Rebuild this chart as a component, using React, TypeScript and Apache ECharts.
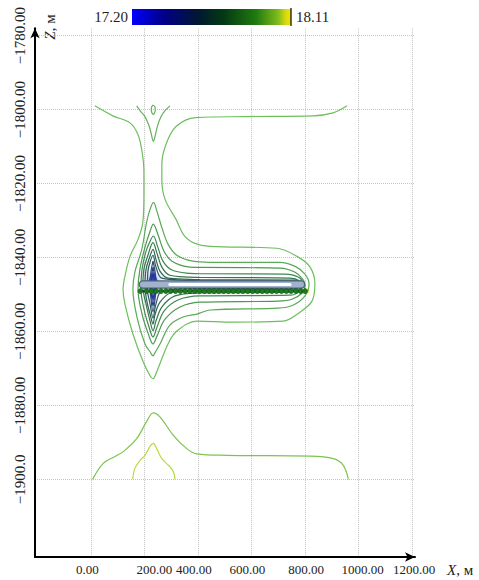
import React, { useEffect, useRef } from "react";
import * as echarts from "echarts";

// ---- axis ticks ----
const xTicks = [0, 200, 400, 600, 800, 1000, 1200];
const xTickLabels = ["0.00", "200.00", "400.00", "600.00", "800.00", "1000.00", "1200.00"];
const zTicks = [-1780, -1800, -1820, -1840, -1860, -1880, -1900];
const zTickLabels = ["\u22121780.00", "\u22121800.00", "\u22121820.00", "\u22121840.00", "\u22121860.00", "\u22121880.00", "\u22121900.0"];

// ---- colour bar ----
const colorMinLabel = "17.20";
const colorMaxLabel = "18.11";

// ---- contour lines (X, Z) ----
const contourA: number[][] = [
  [15, -1799], [82, -1801.7], [146, -1803.6], [176, -1806.8], [191, -1811.4], [198, -1816.8], [198, -1823],
  [194, -1830.5], [176, -1835.1], [146, -1839.7], [127, -1845.1], [120, -1848.6], [127, -1852.6], [157, -1860.7],
  [194, -1868], [221, -1872], [232, -1872.8], [247, -1870.7], [288, -1863.4], [321, -1859.9], [396, -1857.2],
  [531, -1857.5], [718, -1857.2], [781, -1854.8], [826, -1851.8], [837, -1847.2], [819, -1842.6], [770, -1839.7],
  [695, -1837.5], [445, -1837], [389, -1836.2], [348, -1834], [318, -1829.7], [277, -1824.3], [265, -1818.9],
  [265, -1814.8], [280, -1809.5], [318, -1804.6], [392, -1802.2], [583, -1801.9], [830, -1801.7], [905, -1800.9],
  [957, -1799],
];
const contourB: number[][] = [
  [445, -1841.3], [706, -1841.3], [763, -1842.4], [800, -1844.5], [815, -1847.2], [800, -1850.4], [755, -1852.9],
  [699, -1853.7], [445, -1854.2], [396, -1855.3], [344, -1856.1], [295, -1858.3], [258, -1863.4], [239, -1865.8],
  [232, -1866.6], [221, -1865.5], [202, -1863.4], [172, -1856.1], [157, -1848.6], [164, -1844], [190, -1837.8],
  [208, -1830.5], [221, -1827], [234, -1825.1], [247, -1827.6], [265, -1831.9], [288, -1836.4], [321, -1839.4],
  [381, -1841], [445, -1841.3],
];
const contourC: number[][] = [
  [407, -1842.7], [706, -1842.9], [763, -1844], [792, -1845.9], [800, -1847.5], [789, -1849.6], [751, -1851.3],
  [699, -1851.8], [407, -1852.1], [333, -1853.4], [277, -1856.7], [247, -1861.2], [232, -1863.4], [217, -1861.2],
  [191, -1855.3], [176, -1848.6], [183, -1843.2], [202, -1837.2], [221, -1832.9], [233, -1831], [250, -1833.7],
  [273, -1838.3], [303, -1841], [370, -1842.6], [407, -1842.7],
];
const contourD: number[][] = [
  [407, -1844.4], [725, -1844.5], [774, -1845.3], [792, -1847.2], [781, -1849.1], [744, -1850.2], [407, -1850.4],
  [325, -1851.5], [273, -1854.5], [247, -1858.8], [232, -1861.5], [217, -1858.8], [198, -1853.9], [187, -1848.6],
  [191, -1843.2], [206, -1838.3], [221, -1835.6], [233, -1834.2], [250, -1837.2], [269, -1841], [303, -1843.4],
  [370, -1844.3], [407, -1844.4],
];
const contourE: number[][] = [
  [407, -1845.4], [744, -1845.6], [781, -1846.4], [789, -1847.5], [774, -1848.8], [736, -1849.4], [407, -1849.6],
  [314, -1850.4], [265, -1853.4], [243, -1857.2], [232, -1859.8], [221, -1857.2], [206, -1852.6], [194, -1848],
  [198, -1843.2], [213, -1839.4], [232, -1836], [247, -1838.9], [265, -1842.6], [295, -1844.8], [370, -1845.3],
  [407, -1845.4],
];
const contourF: number[][] = [
  [407, -1846], [763, -1846.1], [781, -1847.2], [766, -1848.6], [407, -1848.8], [303, -1849.4], [258, -1852.1],
  [239, -1855.6], [232, -1858], [222, -1855.6], [209, -1851.8], [202, -1847.8], [206, -1843.2], [219, -1840],
  [232, -1837.8], [243, -1840.5], [258, -1843.7], [288, -1845.6], [370, -1845.9], [407, -1846],
];
const contourG: number[][] = [
  [407, -1846.3], [766, -1846.4], [777, -1847.2], [766, -1848.3], [407, -1848.4], [265, -1849.1], [243, -1852.6],
  [232, -1856.4], [221, -1852.6], [211, -1848.6], [213, -1843.7], [222, -1841], [232, -1839.4], [243, -1842.6],
  [265, -1845.6], [370, -1846.2], [407, -1846.3],
];
const contourH: number[][] = [
  [232, -1841], [240, -1844], [244, -1847.5], [240, -1851], [232, -1854.7], [224, -1851], [220, -1847.5], [224, -1844], [232, -1841],
];
const contourI: number[][] = [
  [232, -1842.6], [238, -1845], [241, -1847.5], [238, -1850], [232, -1853.1], [226, -1850], [223, -1847.5], [226, -1845], [232, -1842.6],
];
const contourJ: number[][] = [
  [232, -1844], [236, -1846], [238, -1847.5], [236, -1849.2], [232, -1851.5], [228, -1849.2], [226, -1847.5], [228, -1846], [232, -1844],
];
const contourTopV: number[][] = [
  [171, -1799], [187, -1800.6], [202, -1801.9], [217, -1804.4], [226, -1806.8], [233, -1808.6], [241, -1806.8],
  [249, -1804.4], [262, -1801.9], [277, -1800.3], [295, -1799],
];
const contourTopO: number[][] = [
  [233, -1798.8], [238.5, -1799.2], [240.4, -1800], [238.5, -1800.8], [233, -1801.3], [227.3, -1800.8],
  [225.4, -1800], [227.3, -1799.2], [233, -1798.8],
];
const contourLow1: number[][] = [
  [6, -1900], [46, -1895.7], [90, -1893.8], [121, -1892.5], [171, -1889], [208, -1884.4], [233, -1882],
  [258, -1883.1], [308, -1888.1], [358, -1891.7], [395, -1893.1], [507, -1893.5], [819, -1893.7], [906, -1894.4],
  [943, -1896.2], [962, -1900],
];
const contourLow2: number[][] = [
  [156, -1900], [164, -1897.1], [183, -1894.9], [202, -1893.5], [221, -1891.1], [233, -1890.3], [247, -1891.9],
  [265, -1894.4], [295, -1896.6], [308, -1897.9], [314, -1900],
];

// ---- horizontal well / source ----
const wellBody: number[][] = [[194, -1847.3], [785, -1847.3]];
const wellCore: number[][] = [[295, -1847.3], [744, -1847.3]];
const beadsX = [185, 208, 226, 244, 262, 280, 298, 316, 334, 352, 370, 388, 406, 424, 442, 460, 478, 496, 514, 532,
  550, 568, 586, 604, 622, 640, 658, 676, 694, 712, 730, 748, 766, 784, 800];
const beadsZ = -1849.1;
const wellEnd: number[][] = [[807, -1849.1]];
const sourcePoint: number[][] = [[232, -1847]];

const FONT = "'Liberation Serif', 'DejaVu Serif', serif";

const contourStyles: [number[][], string][] = [
  [contourA, "#6cbf5c"],
  [contourTopV, "#62b35a"],
  [contourTopO, "#62b35a"],
  [contourB, "#5aab55"],
  [contourC, "#4c9a50"],
  [contourD, "#3f8850"],
  [contourE, "#35764e"],
  [contourF, "#2e6650"],
  [contourG, "#2c5860"],
  [contourH, "#2a4a70"],
  [contourI, "#283c88"],
  [contourJ, "#2233aa"],
  [contourLow1, "#7dc44e"],
  [contourLow2, "#b8dc3c"],
];

// label nudges (rich style names per tick) to mimic the uneven spacing of the original
const xLabelRich: Record<string, any> = {
  r0: { padding: [0, 7, 0, 0] },
  r1: { padding: [0, 0, 0, 20] },
  r2: { padding: [0, 8, 0, 0] },
  r3: { padding: [0, 8, 0, 0] },
  r4: { padding: [0, 0, 0, 2] },
  r5: { padding: [0, 0, 0, 8] },
  r6: { padding: [0, 0, 0, 4] },
};
Object.keys(xLabelRich).forEach((k) => {
  xLabelRich[k] = { ...xLabelRich[k], fontFamily: FONT, fontSize: 13, color: "#222" };
});

export default function App() {
  const ref = useRef<HTMLDivElement>(null);
  useEffect(() => {
    if (!ref.current) return;
    const chart = echarts.init(ref.current, null, { renderer: "svg" });
    const series: any[] = contourStyles.map(([data, color]) => ({
      type: "line",
      data,
      smooth: 0.35,
      symbol: "none",
      silent: true,
      lineStyle: { color, width: 1.2 },
    }));
    series.push(
      {
        type: "line", data: wellBody, symbol: "none", silent: true,
        lineStyle: { color: "#4a6478", width: 8.5, cap: "round" },
      },
      {
        type: "line", data: wellBody, symbol: "none", silent: true,
        lineStyle: { color: "#a3b2cc", width: 6, cap: "round" },
      },
      {
        type: "line", data: wellCore, symbol: "none", silent: true,
        lineStyle: { color: "#ffffff", width: 3, cap: "round" },
      },
      {
        type: "scatter", data: sourcePoint, symbol: "circle", symbolSize: [9, 18], silent: true,
        itemStyle: { color: "rgba(25,45,255,0.9)", shadowBlur: 8, shadowColor: "#3050ff" },
      },
      {
        type: "scatter", data: sourcePoint, symbol: "circle", symbolSize: 3, silent: true,
        itemStyle: { color: "#c8d8ff" },
      },
      {
        type: "line", data: beadsX.map((x) => [x, beadsZ]), symbol: "circle", symbolSize: 5, silent: true,
        lineStyle: { color: "#111", width: 1.2 },
        itemStyle: { color: "#1d7a1d", borderColor: "#0e4a0e", borderWidth: 0.5 },
      },
      {
        type: "scatter", data: wellEnd, symbol: "circle", symbolSize: 5, silent: true,
        itemStyle: { color: "#e4e41c" },
      }
    );

    chart.setOption({
      animation: false,
      backgroundColor: "#ffffff",
      grid: { left: 35, right: 64, top: 28.2, bottom: 23, containLabel: false },
      xAxis: {
        type: "value",
        min: -209,
        max: 1211,
        axisLine: {
          show: true, onZero: false, symbol: ["none", "arrow"], symbolSize: [7, 10],
          lineStyle: { color: "#000", width: 2 },
        },
        axisTick: { show: false, customValues: xTicks },
        axisLabel: {
          customValues: xTicks,
          showMinLabel: true,
          showMaxLabel: true,
          hideOverlap: false,
          formatter: (v: number) => {
            const i = xTicks.indexOf(Math.round(v));
            return i < 0 ? "" : `{r${i}|${xTickLabels[i]}}`;
          },
          rich: xLabelRich,
          fontFamily: FONT, fontSize: 13, color: "#222", margin: 6,
        },
        splitLine: { show: true, lineStyle: { color: "#c4c4c4", type: "dotted", width: 1 } },
      },
      yAxis: {
        type: "value",
        min: -1921,
        max: -1778,
        axisLine: {
          show: true, onZero: false, symbol: ["none", "arrow"], symbolSize: [7, 10],
          lineStyle: { color: "#000", width: 2 },
        },
        axisTick: { show: false, customValues: zTicks },
        axisLabel: {
          customValues: zTicks,
          rotate: 90,
          showMinLabel: true,
          showMaxLabel: true,
          formatter: (v: number) => zTickLabels[zTicks.indexOf(Math.round(v))] ?? "",
          fontFamily: FONT, fontSize: 15, color: "#222", margin: 8,
        },
        splitLine: { show: true, lineStyle: { color: "#c4c4c4", type: "dotted", width: 1 } },
      },
      graphic: [
        {
          type: "rect",
          shape: { x: 132, y: 9, width: 159, height: 16 },
          style: {
            fill: new echarts.graphic.LinearGradient(0, 0, 1, 0, [
              { offset: 0, color: "#0000ff" },
              { offset: 0.2, color: "#000088" },
              { offset: 0.42, color: "#001830" },
              { offset: 0.58, color: "#053a12" },
              { offset: 0.78, color: "#1f7a10" },
              { offset: 0.92, color: "#80bc1c" },
              { offset: 0.965, color: "#d6d810" },
              { offset: 1, color: "#f4e400" },
            ]),
          },
        },
        { type: "line", shape: { x1: 291, y1: 8, x2: 291, y2: 26 }, style: { stroke: "#000", lineWidth: 1.2 } },
        {
          type: "text", x: 128, y: 17,
          style: { text: colorMinLabel, align: "right", verticalAlign: "middle", font: `15px ${FONT}`, fill: "#222" },
        },
        {
          type: "text", x: 296, y: 17,
          style: { text: colorMaxLabel, align: "left", verticalAlign: "middle", font: `15px ${FONT}`, fill: "#222" },
        },
        {
          type: "text", x: 447, y: 570,
          style: {
            text: "{i|X}, \u043c", align: "left", verticalAlign: "middle", font: `15px ${FONT}`, fill: "#222",
            rich: { i: { fontStyle: "italic", fontFamily: FONT, fontSize: 15, fill: "#222" } },
          },
        },
        {
          type: "text", x: 50, y: 27, rotation: Math.PI / 2,
          style: {
            text: "{i|Z}, \u043c", align: "center", verticalAlign: "middle", font: `15px ${FONT}`, fill: "#222",
            rich: { i: { fontStyle: "italic", fontFamily: FONT, fontSize: 15, fill: "#222" } },
          },
        },
      ],
      series,
    });
    return () => chart.dispose();
  }, []);
  return (
    <div
      ref={ref}
      style={{ position: "fixed", left: 0, top: 0, width: 479, height: 580, background: "#fff" }}
    />
  );
}
